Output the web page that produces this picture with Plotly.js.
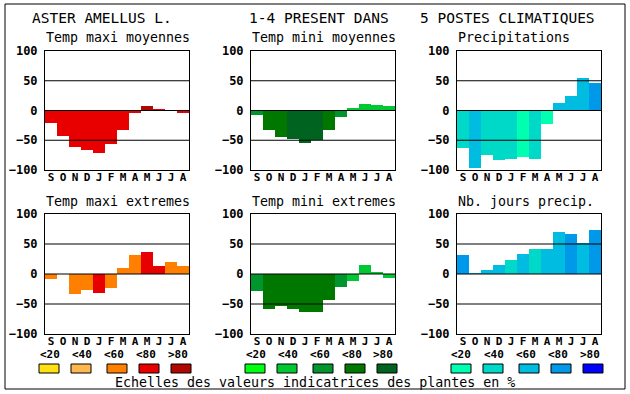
<!DOCTYPE html>
<html><head><meta charset="utf-8">
<script src="https://cdn.plot.ly/plotly-3.0.1.min.js"></script>
<style>html,body{margin:0;padding:0;background:#fff}#chart{width:630px;height:394px}</style>
</head><body><div id="chart"></div>
<script>
// ---- data ----
const months = ['S','O','N','D','J','F','M','A','M','J','J','A'];
const yTicks = [-100,-50,0,50,100];
const titles = ['Temp maxi moyennes','Temp mini moyennes','Precipitations','Temp maxi extremes','Temp mini extremes','Nb. jours precip.'];
const header = ['ASTER AMELLUS L.','1-4 PRESENT DANS','5 POSTES CLIMATIQUES'];
const classLabels = ['<20','<40','<60','<80','>80'];
const footer = 'Echelles des valeurs indicatrices des plantes en %';

const warm  = ['#ffe010','#ffb850','#ff8000','#e80000','#b00800'];
const green = ['#00ff10','#00c832','#00962d','#007800','#006420'];
const blue  = ['#00ffb0','#00d8c8','#00bce0','#0098e8','#0000ff'];

const tmaxMoy     = [-21,-43,-61,-66,-72,-57,-33,-4,7,2,0,-5];
const tmaxMoyCls  = [3,3,3,3,3,3,3,3,4,3,3,3];
const tminMoy     = [-8,-33,-44,-48,-54,-50,-33,-11,5,11,10,7];
const tminMoyCls  = [2,3,3,4,4,4,3,2,1,1,1,1];
const precip      = [-63,-96,-74,-83,-81,-78,-81,-23,12,25,55,47];
const precipCls   = [1,2,1,1,1,0,1,0,2,2,2,3];
const tmaxExt     = [-8,-5,-33,-26,-31,-23,10,32,37,13,20,13];
const tmaxExtCls  = [2,-1,2,2,3,2,2,2,3,3,2,2];
const tminExt     = [-28,-58,-53,-58,-63,-64,-44,-21,-11,15,3,-6];
const tminExtCls  = [2,3,3,3,3,3,3,2,1,1,1,1];
const nbJours     = [32,2,6,15,24,33,42,42,70,67,52,73];
const nbJoursCls  = [3,2,2,2,1,2,1,2,2,3,2,3];

const series = [
  {v:tmaxMoy, c:tmaxMoyCls, pal:warm},
  {v:tminMoy, c:tminMoyCls, pal:green},
  {v:precip,  c:precipCls,  pal:blue},
  {v:tmaxExt, c:tmaxExtCls, pal:warm},
  {v:tminExt, c:tminExtCls, pal:green},
  {v:nbJours, c:nbJoursCls, pal:blue}
];

// ---- layout helpers ----
const W = 630, H = 394;
const px = x => x / W, py = y => 1 - y / H;
const FONT = 'DejaVu Sans Mono';
const colX = [45, 251, 457], PW = 144;
const rowY = [[51,170],[214,334]];
const subY = [38, 201];

const data = [], shapes = [], annotations = [];
const layout = {
  width: W, height: H, margin: {l:0,r:0,t:0,b:0},
  paper_bgcolor: '#fff', plot_bgcolor: '#fff',
  showlegend: false, bargap: 0, font: {family: FONT, color: '#000'}
};
const idx = months.map((m,i) => i);

series.forEach((s, i) => {
  const col = i % 3, row = Math.floor(i / 3);
  const sfx = i === 0 ? '' : String(i + 1);
  const x0 = colX[col], ys = rowY[row];
  layout['xaxis' + sfx] = {
    domain: [px(x0), px(x0 + PW)], anchor: 'y' + sfx,
    range: [-0.5, 11.5], tickvals: idx, ticktext: months,
    showline: true, mirror: true, linecolor: '#000', linewidth: 1,
    showgrid: false, zeroline: false, ticks: '', fixedrange: true,
    tickfont: {family: FONT, size: 11, color: '#000', weight: 'bold'},
    ticklabelstandoff: -3
  };
  layout['yaxis' + sfx] = {
    domain: [py(ys[1]), py(ys[0])], anchor: 'x' + sfx,
    range: [-100, 100], tickvals: yTicks,
    showline: true, mirror: true, linecolor: '#000', linewidth: 1,
    showgrid: false, zeroline: false, ticks: '', fixedrange: true,
    tickfont: {family: FONT, size: 12, color: '#000', weight: 'bold'},
    ticklabelstandoff: 4
  };
  data.push({
    type: 'bar', x: idx, y: s.v, width: 1,
    marker: {color: s.c.map(k => k < 0 ? '#fffdf2' : s.pal[k]), line: {width: 0}},
    xaxis: 'x' + sfx, yaxis: 'y' + sfx, hoverinfo: 'skip'
  });
  [-50, 0, 50].forEach(v => shapes.push({
    type: 'line', xref: 'x' + sfx + ' domain', yref: 'y' + sfx,
    x0: 0, x1: 1, y0: v, y1: v, line: {color: '#000', width: 1}, layer: 'above'
  }));
  annotations.push({
    xref: 'paper', yref: 'paper', x: px(x0 - 1), y: py(subY[row]),
    xanchor: 'left', yanchor: 'middle', showarrow: false, text: titles[i],
    font: {family: FONT, size: 13.3, color: '#000'}
  });
});

// header
const headX = [102, 318.5, 507];
header.forEach((t, i) => annotations.push({
  xref: 'paper', yref: 'paper', x: px(headX[i]), y: py(18),
  xanchor: 'center', yanchor: 'middle', showarrow: false, text: t,
  font: {family: FONT, size: 14.5, color: '#000'}
}));

// colour scale legends
const boxC = [49, 81, 117, 149, 181], labC = [49, 81, 113, 145, 177];
const palettes = [warm, green, blue], offs = [0, 206, 412];
palettes.forEach((pal, g) => {
  pal.forEach((c, k) => {
    const cx = boxC[k] + offs[g];
    shapes.push({type: 'rect', xref: 'paper', yref: 'paper',
      x0: px(cx - 10), x1: px(cx + 10), y0: py(373), y1: py(364),
      fillcolor: c, line: {color: '#000', width: 1}});
    annotations.push({xref: 'paper', yref: 'paper', x: px(labC[k] + offs[g] + 0.5), y: py(354),
      xanchor: 'center', yanchor: 'middle', showarrow: false, text: classLabels[k],
      font: {family: FONT, size: 11, color: '#000', weight: 'bold'}});
  });
});
annotations.push({xref: 'paper', yref: 'paper', x: px(314.5), y: py(382),
  xanchor: 'center', yanchor: 'middle', showarrow: false, text: footer,
  font: {family: FONT, size: 13.3, color: '#000'}});

// outer frame
shapes.push({type: 'rect', xref: 'paper', yref: 'paper',
  x0: px(5), x1: px(625), y0: py(389), y1: py(4), line: {color: '#000', width: 1}});

layout.shapes = shapes;
layout.annotations = annotations;
Plotly.newPlot('chart', data, layout, {staticPlot: true, displayModeBar: false});
</script></body></html>
